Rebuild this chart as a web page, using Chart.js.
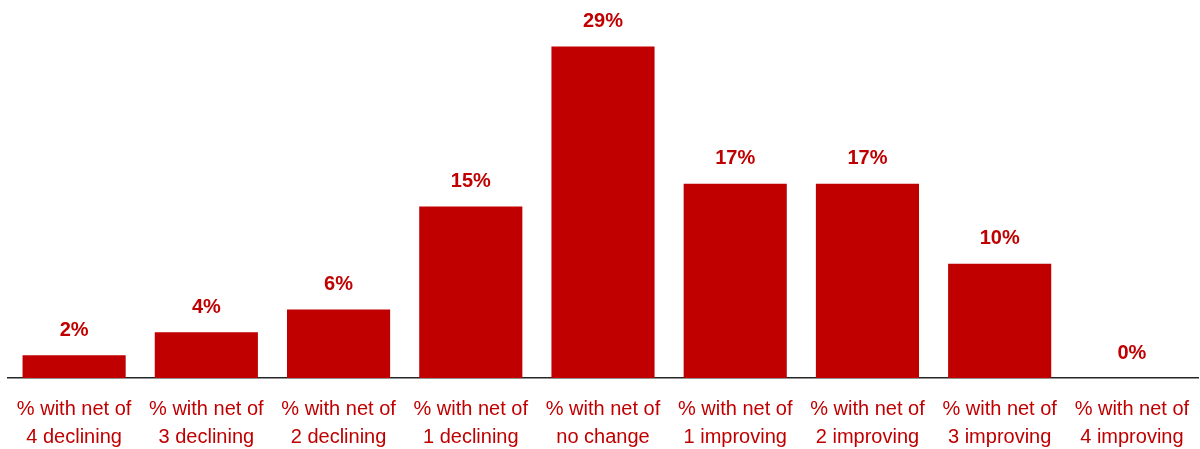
<!DOCTYPE html>
<html>
<head>
<meta charset="utf-8">
<script src="https://cdn.jsdelivr.net/npm/chart.js@4.4.1/dist/chart.umd.min.js"></script>
<style>
  html, body { margin: 0; padding: 0; background: #ffffff; }
  #wrap { width: 1200px; height: 449px; }
</style>
</head>
<body>
<div id="wrap"><canvas id="net-change-chart"></canvas></div>
<script>
const categories = [
  ['% with net of', '4 declining'],
  ['% with net of', '3 declining'],
  ['% with net of', '2 declining'],
  ['% with net of', '1 declining'],
  ['% with net of', 'no change'],
  ['% with net of', '1 improving'],
  ['% with net of', '2 improving'],
  ['% with net of', '3 improving'],
  ['% with net of', '4 improving'],
];
const shares = [2, 4, 6, 15, 29, 17, 17, 10, 0];

const RED = '#C00000';

// value labels above each bar
const barLabels = {
  id: 'barLabels',
  afterDatasetsDraw(chart) {
    const ctx = chart.ctx;
    const meta = chart.getDatasetMeta(0);
    ctx.save();
    ctx.fillStyle = RED;
    ctx.font = 'bold 20px "Liberation Sans", Arial, sans-serif';
    ctx.textAlign = 'center';
    ctx.textBaseline = 'middle';
    meta.data.forEach((bar, i) => {
      ctx.fillText(shares[i] + '%', bar.x, bar.y - 25);
    });
    ctx.restore();
  }
};

const ctx = document.getElementById('net-change-chart').getContext('2d');
new Chart(ctx, {
  type: 'bar',
  data: {
    labels: categories,
    datasets: [
      {
        data: shares,
        backgroundColor: RED,
        borderWidth: 0,
        barPercentage: 0.78,
        categoryPercentage: 1,
      },
    ],
  },
  options: {
    responsive: true,
    maintainAspectRatio: false,
    animation: false,
    layout: {
      padding: { top: 35, left: 8, right: 2, bottom: 0 },
    },
    plugins: {
      legend: { display: false },
      tooltip: { enabled: false },
    },
    scales: {
      x: {
        offset: true,
        grid: { display: false, drawTicks: false },
        border: { display: true, color: '#262626', width: 1.5 },
        ticks: {
          color: RED,
          padding: 17,
          maxRotation: 0,
          autoSkip: false,
          font: { family: '"Liberation Sans", Arial, sans-serif', size: 20, lineHeight: 1.4 },
        },
        afterFit(axis) {
          // fixed label band, no extra side room for the outer labels
          axis.height = 71;
          axis.paddingLeft = 0;
          axis.paddingRight = 0;
        },
      },
      y: {
        display: false,
        min: 0,
        max: 30,
      },
    },
  },
  plugins: [barLabels],
});
</script>
</body>
</html>
